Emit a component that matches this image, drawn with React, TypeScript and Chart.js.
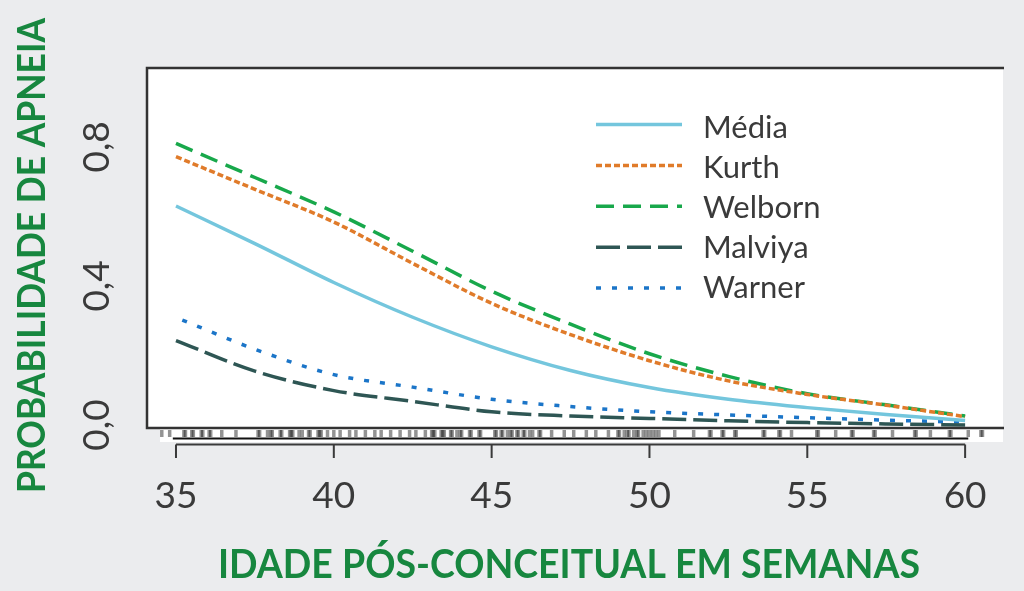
import { useEffect, useRef } from "react";
import { Chart, registerables } from "chart.js";

Chart.register(...registerables);

// ---- data ----
const weeks = [35, 37.5, 40, 42.5, 45, 47.5, 50, 52.5, 55, 57.5, 60];
const media = [0.63, 0.522, 0.41, 0.31, 0.225, 0.157, 0.108, 0.074, 0.05, 0.03, 0.013];
const kurth = [0.772, 0.678, 0.584, 0.465, 0.35, 0.26, 0.185, 0.127, 0.088, 0.057, 0.024];
const welborn = [0.81, 0.712, 0.613, 0.5, 0.385, 0.29, 0.205, 0.14, 0.09, 0.058, 0.026];
const malviya = [0.243, 0.155, 0.099, 0.068, 0.038, 0.026, 0.019, 0.012, 0.007, 0.003, 0.0];
const warnerWeeks = [35.2, 37.5, 40, 42.5, 45, 47.5, 50, 52.5, 55, 57.5, 60];
const warner = [0.302, 0.218, 0.145, 0.109, 0.074, 0.053, 0.038, 0.029, 0.021, 0.014, 0.008];
const seriesNames = ["Média", "Kurth", "Welborn", "Malviya", "Warner"];
const xTicks = [35, 40, 45, 50, 55, 60];
const yTicks = [0, 0.4, 0.8];
const yTickLabels = ["0,0", "0,4", "0,8"];
const xTitle = "IDADE PÓS-CONCEITUAL EM SEMANAS";
const yTitle = "PROBABILIDADE DE APNEIA";
const rugAges = [
  34.55, 34.8,
  35.25, 35.3, 35.5, 35.55, 35.8, 35.85, 36.05, 36.1,
  36.45, 36.9,
  37.6, 37.65, 37.9, 38.0, 38.05, 38.3, 38.35, 38.6, 38.65, 38.7, 38.9, 39.0, 39.2, 39.25, 39.5, 39.55, 39.6, 39.8,
  40.0, 40.2, 40.5, 40.7, 41.0, 41.3, 41.5, 41.8, 42.1, 42.4, 42.6, 42.9,
  43.1, 43.15, 43.2, 43.4, 43.45, 43.5, 43.7, 43.75, 43.9, 44.0, 44.05, 44.3, 44.35, 44.6, 44.65,
  45.1, 45.15, 45.3, 45.35, 45.5, 45.6, 45.65, 45.8, 45.85, 46.0, 46.05, 46.2, 46.3, 46.5, 46.55,
  46.9, 47.3, 47.6, 48.0, 48.3, 48.7,
  49.0, 49.05, 49.2, 49.3, 49.35, 49.5, 49.6, 49.65, 49.8, 49.9, 50.0, 50.1, 50.2, 50.3,
  50.8, 51.4,
  51.9, 51.95, 52.3, 52.35, 52.7, 52.75, 53.6, 53.65, 54.1, 54.15, 54.5, 55.3, 55.35, 55.9, 56.4, 56.45,
  57.1, 57.15, 57.7, 58.4, 58.45, 58.9, 59.5, 59.55, 60.1, 60.5, 60.55,
];

const GREEN = "#17873f";
const TEXT = "#3a3a3a";
const BG = "#ebecee";

const pairs = (xs: number[], ys: number[]) => xs.map((x, i) => ({ x, y: ys[i] }));

const decorPlugin = {
  id: "decor",
  beforeDraw(chart: any) {
    const { ctx, chartArea } = chart;
    const xs = chart.scales.x;
    ctx.save();
    ctx.fillStyle = BG;
    ctx.fillRect(0, 0, chart.width, chart.height);
    ctx.fillStyle = "#ffffff";
    ctx.fillRect(chartArea.left, chartArea.top, chartArea.right - chartArea.left, chartArea.bottom - chartArea.top);
    // strip under the box for the rug
    ctx.fillRect(160, chartArea.bottom, chartArea.right - 160, 14);
    // rug
    ctx.strokeStyle = "rgba(0,0,0,0.42)";
    ctx.lineWidth = 3.5;
    rugAges.forEach((a) => {
      const px = xs.getPixelForValue(a);
      ctx.beginPath();
      ctx.moveTo(px, chartArea.bottom + 2);
      ctx.lineTo(px, chartArea.bottom + 9);
      ctx.stroke();
    });
    // dark baseline of rug
    ctx.strokeStyle = "#111";
    ctx.lineWidth = 2;
    ctx.beginPath();
    ctx.moveTo(xs.getPixelForValue(34.9), chartArea.bottom + 10.5);
    ctx.lineTo(xs.getPixelForValue(60.1), chartArea.bottom + 10.5);
    ctx.stroke();
    ctx.restore();
  },
  afterDatasetsDraw(chart: any) {
    const { ctx, chartArea } = chart;
    ctx.save();
    // box (top, left, bottom)
    ctx.strokeStyle = "#333";
    ctx.lineWidth = 2.5;
    ctx.beginPath();
    ctx.moveTo(chartArea.right + 1, chartArea.top);
    ctx.lineTo(chartArea.left + 1, chartArea.top);
    ctx.lineTo(chartArea.left + 1, chartArea.bottom);
    ctx.lineTo(chartArea.right + 1, chartArea.bottom);
    ctx.stroke();

    // legend
    chart.data.datasets.forEach((ds: any, i: number) => {
      const ly = 124.5 + i * 40.9;
      ctx.strokeStyle = ds.borderColor;
      ctx.lineWidth = ds.borderWidth;
      ctx.setLineDash(ds.borderDash || []);
      ctx.beginPath();
      ctx.moveTo(596, ly);
      ctx.lineTo(682, ly);
      ctx.stroke();
      ctx.setLineDash([]);
      ctx.fillStyle = TEXT;
      ctx.font = "400 31px Lato";
      ctx.textAlign = "left";
      ctx.textBaseline = "alphabetic";
      ctx.fillText(ds.label, 703, 137.5 + i * 40);
    });
    ctx.restore();
  },
  afterDraw(chart: any) {
    const { ctx } = chart;
    const xs = chart.scales.x;
    const ys = chart.scales.y;
    ctx.save();
    // x axis line and ticks
    const axY = 444.5;
    ctx.strokeStyle = "#3a3a3a";
    ctx.lineWidth = 2;
    ctx.beginPath();
    ctx.moveTo(xs.getPixelForValue(xTicks[0]), axY);
    ctx.lineTo(xs.getPixelForValue(xTicks[xTicks.length - 1]), axY);
    xTicks.forEach((t) => {
      const px = xs.getPixelForValue(t);
      ctx.moveTo(px, axY);
      ctx.lineTo(px, 458);
    });
    ctx.stroke();
    ctx.fillStyle = TEXT;
    ctx.font = "400 37px Lato";
    ctx.textAlign = "center";
    ctx.textBaseline = "alphabetic";
    xTicks.forEach((t) => {
      ctx.fillText(String(t), xs.getPixelForValue(t), 508);
    });
    // y tick labels (rotated)
    yTicks.forEach((t, i) => {
      const py = ys.getPixelForValue(t);
      ctx.save();
      ctx.translate(109, py);
      ctx.rotate(-Math.PI / 2);
      ctx.fillText(yTickLabels[i], 0, 0);
      ctx.restore();
    });
    // x title
    ctx.fillStyle = GREEN;
    ctx.font = "700 41px Lato";
    let w = ctx.measureText(xTitle).width;
    ctx.save();
    ctx.translate(569, 578);
    ctx.scale(702 / w, 1);
    ctx.textAlign = "center";
    ctx.fillText(xTitle, 0, 0);
    ctx.restore();
    // y title
    ctx.font = "700 39px Lato";
    w = ctx.measureText(yTitle).width;
    ctx.save();
    ctx.translate(45, 255.5);
    ctx.rotate(-Math.PI / 2);
    ctx.scale(475 / w, 1);
    ctx.textAlign = "center";
    ctx.fillText(yTitle, 0, 0);
    ctx.restore();
    ctx.restore();
  },
};

export default function App() {
  const ref = useRef<HTMLCanvasElement | null>(null);
  useEffect(() => {
    document.body.style.margin = "0";
    document.body.style.background = BG;
    if (!ref.current) return;
    const common = { pointRadius: 0, borderWidth: 3.5, fill: false, cubicInterpolationMode: "monotone" as const, borderCapStyle: "butt" as const };
    const chart = new Chart(ref.current, {
      type: "line",
      data: {
        datasets: [
          { ...common, label: seriesNames[0], data: pairs(weeks, media), borderColor: "#74c6dd", borderDash: [] },
          { ...common, label: seriesNames[1], data: pairs(weeks, kurth), borderColor: "#e07b2a", borderDash: [6, 3] },
          { ...common, label: seriesNames[2], data: pairs(weeks, welborn), borderColor: "#18a84b", borderDash: [18, 9] },
          { ...common, label: seriesNames[3], data: pairs(weeks, malviya), borderColor: "#2e5654", borderDash: [24, 7] },
          { ...common, label: seriesNames[4], data: pairs(warnerWeeks, warner), borderColor: "#1b75c8", borderDash: [5, 11] },
        ],
      },
      options: {
        responsive: false,
        animation: false,
        layout: { padding: { left: 146, right: 21, top: 68, bottom: 163 } },
        scales: {
          x: { type: "linear", min: 34.05, max: 61.2, display: false },
          y: { type: "linear", min: -0.0086, max: 1.027, display: false },
        },
        plugins: { legend: { display: false }, tooltip: { enabled: false } },
      },
      plugins: [decorPlugin],
    });
    return () => chart.destroy();
  }, []);
  return <canvas ref={ref} width={1024} height={591} style={{ display: "block" }} />;
}
